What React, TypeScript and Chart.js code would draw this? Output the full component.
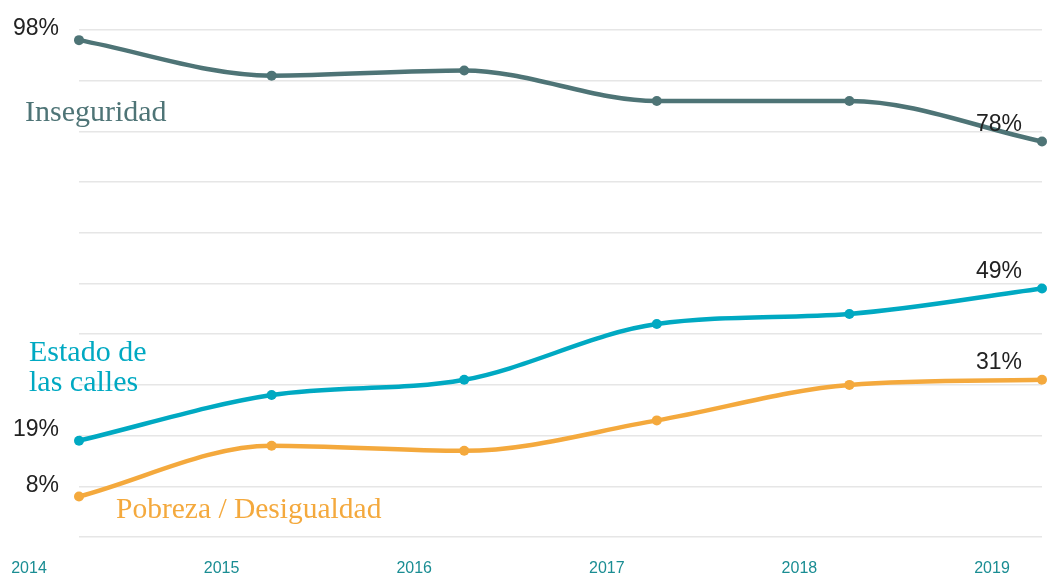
import React, { useEffect, useRef } from "react";
import { Chart, registerables } from "chart.js";

Chart.register(...registerables);

const years = ["2014", "2015", "2016", "2017", "2018", "2019"];
const inseguridad = [98, 91, 92, 86, 86, 78];
const estadoCalles = [19, 28, 31, 42, 44, 49];
const pobreza = [8, 18, 17, 23, 30, 31];

const seriesNames = ["Inseguridad", "Estado de las calles", "Pobreza / Desigualdad"];
const seriesColors = ["#4e7476", "#00a9c2", "#f4a93d"];

const labelsPlugin = {
  id: "endLabels",
  afterDatasetsDraw(chart: any) {
    const ctx = chart.ctx;
    ctx.save();
    ctx.font = "23px 'Liberation Sans', Arial, sans-serif";
    ctx.fillStyle = "#222222";
    ctx.textBaseline = "middle";
    chart.data.datasets.forEach((ds: any, i: number) => {
      const meta = chart.getDatasetMeta(i);
      const first = meta.data[0];
      const last = meta.data[meta.data.length - 1];
      const vFirst = ds.data[0];
      const vLast = ds.data[ds.data.length - 1];
      ctx.textAlign = "right";
      ctx.fillText(vFirst + "%", first.x - 20, first.y - 11);
      ctx.fillText(vLast + "%", last.x - 20, last.y - 17);
    });
    ctx.font = "30px 'Liberation Serif', 'Times New Roman', serif";
    ctx.textAlign = "left";
    ctx.textBaseline = "alphabetic";
    ctx.fillStyle = seriesColors[0];
    ctx.fillText(seriesNames[0], 25, 121);
    ctx.fillStyle = seriesColors[1];
    ctx.fillText("Estado de", 29, 361);
    ctx.fillText("las calles", 29, 391);
    ctx.fillStyle = seriesColors[2];
    ctx.font = "29.5px 'Liberation Serif', 'Times New Roman', serif";
    ctx.fillText(seriesNames[2], 116, 518);
    ctx.restore();
  },
};

export default function App() {
  const ref = useRef<HTMLCanvasElement | null>(null);
  useEffect(() => {
    document.body.style.margin = "0";
    const canvas = ref.current!;
    const mk = (label: string, data: number[], color: string) => ({
      label,
      data,
      borderColor: color,
      backgroundColor: color,
      borderWidth: 4.5,
      pointRadius: 5,
      pointBorderWidth: 0,
      pointBackgroundColor: color,
      cubicInterpolationMode: "monotone" as const,
      fill: false,
      clip: false as any,
    });
    const chart = new Chart(canvas, {
      type: "line",
      data: {
        labels: years,
        datasets: [
          mk(seriesNames[0], inseguridad, seriesColors[0]),
          mk(seriesNames[1], estadoCalles, seriesColors[1]),
          mk(seriesNames[2], pobreza, seriesColors[2]),
        ],
      },
      options: {
        animation: false,
        responsive: false,
        layout: { padding: { left: 79, right: 12, top: 30, bottom: 0 } },
        plugins: { legend: { display: false }, tooltip: { enabled: false } },
        scales: {
          x: {
            type: "category",
            offset: false,
            grid: { display: false, drawTicks: false },
            border: { display: false },
            afterFit: (s: any) => {
              s.height = 37;
              s.paddingLeft = 0;
              s.paddingRight = 0;
            },
            ticks: {
              color: "#1a8d93",
              font: { family: "'Liberation Sans', Arial, sans-serif", size: 16 },
              labelOffset: -50,
              padding: 22,
              maxRotation: 0,
              autoSkip: false,
            },
          },
          y: {
            min: 0,
            max: 100,
            grid: { color: "#e6e6e6", lineWidth: 1.5, drawTicks: false },
            border: { display: false },
            afterFit: (s: any) => {
              s.width = 0;
              s.paddingTop = 0;
              s.paddingBottom = 0;
            },
            ticks: { display: false, stepSize: 10 },
          },
        },
      },
      plugins: [labelsPlugin],
    });
    return () => chart.destroy();
  }, []);
  return <canvas ref={ref} width={1054} height={574} style={{ display: "block" }} />;
}
